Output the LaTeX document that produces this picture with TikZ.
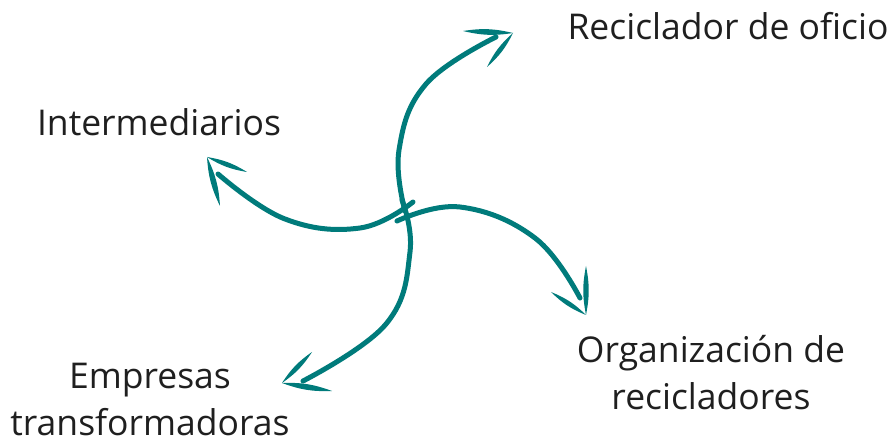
\documentclass[tikz,border=0pt]{standalone}
\usepackage{fontspec}
\setmainfont{Open Sans}
\definecolor{arrteal}{RGB}{0,123,123}
\tikzset{
  shaft/.style={draw=arrteal, line width=5pt, line cap=round, line join=round},
  lbl/.style={inner sep=0pt, text=black!88, font=\fontsize{35.5}{47}\selectfont},
}
\newcommand{\mybarb}[2]{\fill[arrteal] (#1) to[bend left=11] (#2) to[bend left=11] (#1);}
\begin{document}
\begin{tikzpicture}[x=1pt,y=-1pt]
\useasboundingbox (0,0) rectangle (892,443);
% labels
\node[lbl, anchor=base] (rec) at (728,40) {Reciclador de oficio};
\node[lbl, anchor=base] (int) at (159,136) {Intermediarios};
\node[lbl, anchor=base] (emp) at (150,389) {\begin{tabular}[t]{@{}c@{}}Empresas\\transformadoras\end{tabular}};
\node[lbl, anchor=base] (org) at (711,363) {\begin{tabular}[t]{@{}c@{}}Organización de\\recicladores\end{tabular}};
% coordinates
\coordinate (c) at (405,210);
\coordinate (tUp) at (513,33);
\coordinate (tLeft) at (207,157);
\coordinate (tRight) at (586,315);
\coordinate (tDown) at (282,383);
% up arrow
\draw[shaft] plot[smooth, tension=0.7] coordinates {(405,211) (399,150) (426,84) (496,37)};
\mybarb{tUp}{463,31}
\mybarb{487,67}{tUp}
% left arrow
\draw[shaft] plot[smooth, tension=0.7] coordinates {(413,202) (360,228) (285,219) (218,174)};
\mybarb{247,172}{tLeft}
\mybarb{tLeft}{220,206}
% right arrow
\draw[shaft] plot[smooth, tension=0.7] coordinates {(397,221) (460,207) (535,238) (580,298)};
\mybarb{tRight}{586,266}
\mybarb{551,292}{tRight}
% down arrow
\draw[shaft] plot[smooth, tension=0.7] coordinates {(402,200) (410,252) (386,324) (303,381)};
\mybarb{tDown}{312,352}
\mybarb{332,391}{tDown}
\end{tikzpicture}
\end{document}
